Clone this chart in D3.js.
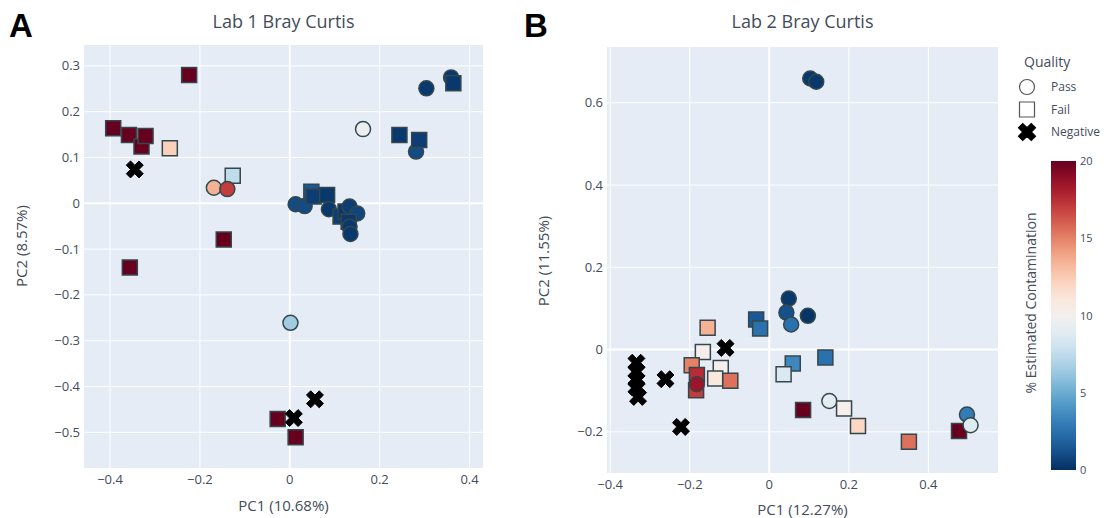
<!DOCTYPE html>
<html><head><meta charset="utf-8">
<script src="https://cdn.jsdelivr.net/npm/d3@7"></script>
<style>
body{margin:0;background:#fff;}
svg{display:block;font-family:"Open Sans",sans-serif;}
</style>
</head><body>
<svg id="chart" width="1107" height="518"></svg>
<script>
// ---------- DATA ----------
const lab1PC1 = [-0.224,-0.393,-0.358,-0.330,-0.321,-0.267,-0.169,-0.127,-0.139,-0.147,-0.356,
  0.163,0.304,0.359,0.364,0.244,0.281,0.288,
  0.013,0.033,0.048,0.053,0.083,0.087,0.113,0.124,0.133,0.150,0.131,0.133,0.135,
  0.0015,-0.027,0.013,-0.345,0.056,0.009];
const lab1PC2 = [0.280,0.164,0.149,0.124,0.147,0.120,0.034,0.060,0.031,-0.079,-0.140,
  0.162,0.251,0.275,0.262,0.149,0.113,0.138,
  -0.002,-0.006,0.025,0.015,0.018,-0.013,-0.029,-0.018,-0.007,-0.022,-0.040,-0.051,-0.067,
  -0.261,-0.471,-0.511,0.074,-0.428,-0.469];
const lab1Contam = [20,20,20,20,20,12.3,13.5,7.5,17,20,20,
  9.5,0.3,0.3,0.3,0.3,1,0.5,
  1,1,1.5,0.5,0.3,0.3,0.5,0.3,0.5,0.8,0.3,0.3,0.3,
  6.5,20,20,null,null,null];
const lab1Quality = ["Fail","Fail","Fail","Fail","Fail","Fail","Pass","Fail","Pass","Fail","Fail",
  "Pass","Pass","Pass","Fail","Fail","Pass","Fail",
  "Pass","Pass","Fail","Fail","Fail","Pass","Fail","Fail","Pass","Pass","Fail","Pass","Pass",
  "Pass","Fail","Fail","Negative","Negative","Negative"];

const lab2PC1 = [0.103,0.118,0.049,0.043,0.055,0.097,-0.033,-0.023,0.141,0.059,0.036,0.085,
  0.151,0.188,0.223,0.351,0.477,0.497,0.506,
  -0.155,-0.167,-0.195,-0.182,-0.184,-0.182,-0.122,-0.136,-0.098,
  -0.110,-0.334,-0.334,-0.334,-0.334,-0.330,-0.261,-0.222];
const lab2PC2 = [0.659,0.651,0.124,0.090,0.061,0.082,0.073,0.051,-0.019,-0.034,-0.060,-0.147,
  -0.125,-0.143,-0.186,-0.224,-0.198,-0.158,-0.184,
  0.053,-0.006,-0.038,-0.062,-0.099,-0.084,-0.045,-0.070,-0.076,
  0.004,-0.032,-0.054,-0.074,-0.092,-0.115,-0.072,-0.188];
const lab2Contam = [0.3,0.3,0.3,1.2,2.5,0.2,1.5,2.5,2.5,3.5,8.5,20,
  9,10.3,12,15.5,20,3,8.8,
  13.5,10.3,15,17.5,17,18.5,10.2,11,15.5,
  null,null,null,null,null,null,null,null];
const lab2Quality = ["Pass","Pass","Pass","Pass","Pass","Pass","Fail","Fail","Fail","Fail","Fail","Fail",
  "Pass","Fail","Fail","Fail","Fail","Pass","Pass",
  "Fail","Fail","Fail","Fail","Fail","Pass","Fail","Fail","Fail",
  "Negative","Negative","Negative","Negative","Negative","Negative","Negative","Negative"];

const lab1XTicks = [-0.4,-0.2,0,0.2,0.4];
const lab1YTicks = [-0.5,-0.4,-0.3,-0.2,-0.1,0,0.1,0.2,0.3];
const lab2XTicks = [-0.4,-0.2,0,0.2,0.4];
const lab2YTicks = [-0.2,0,0.2,0.4,0.6];
const colorTicks = [0,5,10,15,20];
const legendItems = ["Pass","Fail","Negative"];

// ---------- DRAW ----------
const svg = d3.select("#chart");
const textColor = "#434c5a";
const bg = "#E5ECF6";
const color = v => d3.interpolateRdBu(1 - v/20);

// plotly-like thick "x" symbol
const symbolX = {
  draw(ctx, size) {
    const r = Math.sqrt(size)/2;
    const a = r*0.8/Math.SQRT2;
    const pts = [[0,a],[a,2*a],[2*a,a],[a,0],[2*a,-a],[a,-2*a],[0,-a],[-a,-2*a],[-2*a,-a],[-a,0],[-2*a,a],[-a,2*a]];
    ctx.moveTo(pts[0][0],pts[0][1]);
    for (let i=1;i<pts.length;i++) ctx.lineTo(pts[i][0],pts[i][1]);
    ctx.closePath();
  }
};
const symType = q => q==="Pass" ? d3.symbolCircle : q==="Fail" ? d3.symbolSquare : symbolX;
const symSize = q => q==="Pass" ? Math.PI*7.5*7.5 : 15*15;
const fmt = v => v===0 ? "0" : d3.format(".1f")(v);

function panel(o){
  const x = d3.scaleLinear().domain(o.xd).range([o.l,o.r]);
  const y = d3.scaleLinear().domain(o.yd).range([o.b,o.t]);
  const g = svg.append("g");
  g.append("rect").attr("x",o.l).attr("y",o.t).attr("width",o.r-o.l).attr("height",o.b-o.t).attr("fill",bg);
  g.selectAll(".gx").data(o.xt).join("line")
    .attr("x1",d=>x(d)).attr("x2",d=>x(d)).attr("y1",o.t).attr("y2",o.b)
    .attr("stroke","#fff").attr("stroke-width",d=>d===0?2:1);
  g.selectAll(".gy").data(o.yt).join("line")
    .attr("y1",d=>y(d)).attr("y2",d=>y(d)).attr("x1",o.l).attr("x2",o.r)
    .attr("stroke","#fff").attr("stroke-width",d=>d===0?2:1);
  // tick labels
  g.selectAll(".tx").data(o.xt).join("text")
    .attr("x",d=>x(d)).attr("y",o.b+16).attr("text-anchor","middle")
    .attr("font-size",13).attr("fill",textColor).text(fmt);
  g.selectAll(".ty").data(o.yt).join("text")
    .attr("x",o.l-4).attr("y",d=>y(d)+4.5).attr("text-anchor","end")
    .attr("font-size",13).attr("fill",textColor).text(fmt);
  // titles
  g.append("text").attr("x",(o.l+o.r)/2).attr("y",28).attr("text-anchor","middle")
    .attr("font-size",18).attr("fill",textColor).text(o.title);
  g.append("text").attr("x",(o.l+o.r)/2).attr("y",o.xty).attr("text-anchor","middle")
    .attr("font-size",15).attr("fill",textColor).text(o.xlab);
  g.append("text").attr("transform",`translate(${o.ytx},${o.yty}) rotate(-90)`).attr("text-anchor","middle")
    .attr("font-size",15).attr("fill",textColor).text(o.ylab);
  g.append("text").attr("x",o.letterX).attr("y",37).attr("font-size",33).attr("font-weight","bold")
    .attr("font-family","Liberation Sans, Arial, sans-serif").attr("fill","#000").text(o.letter);
  // points
  const idx = d3.range(o.px.length);
  g.selectAll(".pt").data(idx).join("path")
    .attr("transform",i=>`translate(${x(o.px[i])},${y(o.py[i])})`)
    .attr("d",i=>d3.symbol(symType(o.q[i]), symSize(o.q[i]))())
    .attr("fill",i=>o.q[i]==="Negative" ? "#000" : color(o.c[i]))
    .attr("stroke",i=>o.q[i]==="Negative" ? "#000" : "#34474c")
    .attr("stroke-width",i=>o.q[i]==="Negative" ? 1 : 1.5);
}

panel({l:84,r:483,t:45,b:468,xd:[-0.458,0.430],yd:[-0.578,0.3457],xt:lab1XTicks,yt:lab1YTicks,
  title:"Lab 1 Bray Curtis",xlab:"PC1 (10.68%)",ylab:"PC2 (8.57%)",xty:511,ytx:27,yty:246,
  letter:"A",letterX:9,px:lab1PC1,py:lab1PC2,c:lab1Contam,q:lab1Quality});
panel({l:607,r:998,t:47,b:473,xd:[-0.408,0.575],yd:[-0.300,0.7355],xt:lab2XTicks,yt:lab2YTicks,
  title:"Lab 2 Bray Curtis",xlab:"PC1 (12.27%)",ylab:"PC2 (11.55%)",xty:515,ytx:549,yty:261,
  letter:"B",letterX:524,px:lab2PC1,py:lab2PC2,c:lab2Contam,q:lab2Quality});

// ---------- LEGEND ----------
const lg = svg.append("g");
lg.append("text").attr("x",1024).attr("y",67).attr("font-size",14).attr("fill",textColor).text("Quality");
const ly = d3.scalePoint().domain(legendItems).range([87,132]);
lg.selectAll(".ls").data(legendItems).join("path")
  .attr("transform",d=>`translate(1027,${ly(d)})`)
  .attr("d",d=>d3.symbol(symType(d), symSize(d))())
  .attr("fill",d=>d==="Negative"?"#000":"none")
  .attr("stroke",d=>d==="Negative"?"#000":"#555").attr("stroke-width",1.2);
lg.selectAll(".lt").data(legendItems).join("text")
  .attr("x",1051).attr("y",d=>ly(d)+4).attr("font-size",12).attr("fill",textColor).text(d=>d);

// ---------- COLORBAR ----------
const cb = svg.append("g");
const cy = d3.scaleLinear().domain([0,20]).range([470,161]);
const grad = svg.append("defs").append("linearGradient").attr("id","cbg")
  .attr("x1",0).attr("y1",1).attr("x2",0).attr("y2",0);
grad.selectAll("stop").data(d3.range(0,1.0001,0.05)).join("stop")
  .attr("offset",d=>d).attr("stop-color",d=>color(d*20));
cb.append("rect").attr("x",1051).attr("y",cy(20)).attr("width",25).attr("height",cy(0)-cy(20)).attr("fill","url(#cbg)");
cb.selectAll(".ct").data(colorTicks).join("text")
  .attr("x",1080).attr("y",d=>cy(d)+4).attr("font-size",11).attr("fill",textColor).text(d=>d);
cb.append("text").attr("transform","translate(1036,303) rotate(-90)").attr("text-anchor","middle")
  .attr("font-size",14).attr("fill",textColor).text("% Estimated Contamination");
</script>
</body></html>
